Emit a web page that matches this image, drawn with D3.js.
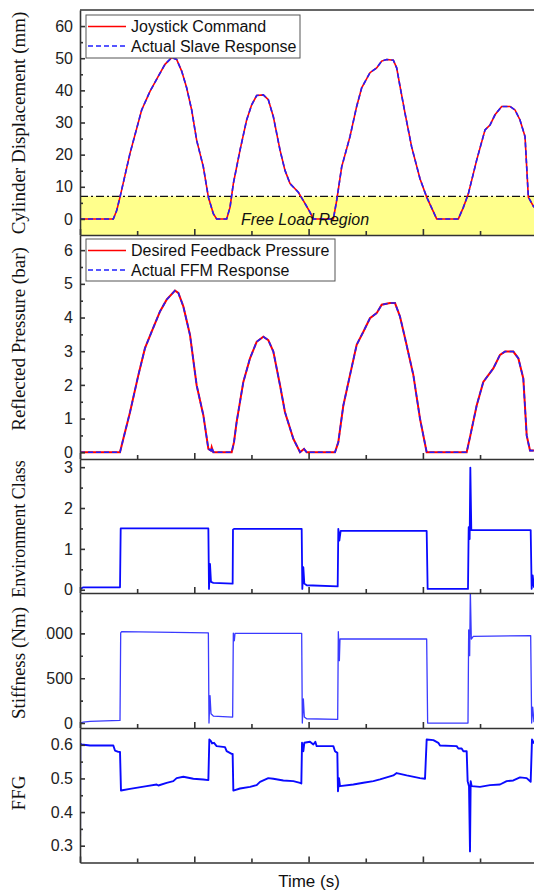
<!DOCTYPE html>
<html>
<head>
<meta charset="utf-8">
<script src="https://cdn.jsdelivr.net/npm/d3@7/dist/d3.min.js"></script>
<style>
  body { margin: 0; background: #fff; }
  svg { display: block; }
</style>
</head>
<body>
<script>
var width = 534,
    height = 892,
    left = 80;

// x ticks (no labels shown in the figure)
var timeMajor = [0, 20, 40, 60, 80],
    timeMinor = [10, 30, 50, 70];

// [time, value]
var joystickCmd = [[0,0],[5.83,0],[6.42,2.6],[7.0,6.8],[8.75,20.4],[10.79,33.9],[12.25,39.7],[13.71,44.4],[14.87,48.1],[16.04,50.2],[16.91,49.6],[17.79,46.0],[18.66,40.8],[19.54,33.9],[20.41,24.5],[21.58,16.2],[22.46,6.8],[23.33,1.6],[23.91,0],[25.66,0],[26.25,3.6],[26.83,11.0],[28.0,21.4],[29.16,30.8],[30.04,35.5],[30.91,38.4],[32.08,38.6],[32.95,37.1],[33.83,31.8],[35.0,21.4],[35.87,15.1],[36.75,11.0],[38.2,8.3],[39.08,5.7],[40.24,2.1],[40.83,0],[44.33,0],[44.91,5.7],[45.79,16.2],[47.24,25.6],[48.41,35.0],[49.29,40.8],[50.74,45.5],[51.91,47.0],[52.79,49.1],[53.66,49.6],[54.83,49.4],[55.41,47.0],[55.99,41.3],[56.87,32.9],[58.03,22.4],[59.49,12.5],[60.66,6.8],[62.41,0],[66.2,0],[67.08,3.6],[67.95,7.8],[69.41,18.3],[70.87,27.7],[71.74,29.2],[72.62,32.4],[73.78,35.0],[75.24,35.0],[76.12,33.9],[76.99,30.8],[77.87,25.6],[78.45,6.8],[79.44,3.6]];
var slaveResp = joystickCmd;

var desiredPress = [[0,0],[7.0,0],[7.58,0.40],[8.75,1.19],[10.21,2.29],[11.37,3.09],[12.54,3.58],[14.0,4.18],[15.16,4.53],[16.62,4.80],[17.21,4.73],[18.08,4.33],[19.25,3.48],[20.41,1.99],[21.58,1.10],[22.46,0.10],[22.92,0.05],[23.04,0.15],[23.33,0],[26.54,0],[26.95,0.30],[27.41,0.90],[28.58,2.09],[29.75,2.79],[30.91,3.28],[32.08,3.43],[32.95,3.33],[33.83,2.99],[35.0,1.99],[35.87,1.19],[37.33,0.40],[38.5,0],[39.2,0.10],[39.66,0],[44.62,0],[45.2,0.30],[46.08,1.39],[47.24,2.29],[48.41,3.19],[49.58,3.58],[50.74,3.98],[51.91,4.13],[52.79,4.38],[54.24,4.43],[55.12,4.43],[55.99,4.03],[56.87,3.39],[58.33,2.29],[59.49,1.00],[60.66,0],[67.66,0],[68.24,0.45],[69.41,1.39],[70.57,2.09],[71.45,2.29],[72.32,2.49],[73.49,2.89],[74.37,2.99],[75.82,2.99],[76.7,2.79],[77.57,2.19],[78.16,0.50],[78.74,0.05],[79.44,0.05]];
var ffmResp = desiredPress;

var envClass = [[0,0.01],[0.58,0.06],[7.0,0.06],[7.12,1.50],[22.46,1.50],[22.57,0.02],[22.75,0.63],[22.92,0.19],[23.33,0.17],[26.71,0.15],[26.77,1.47],[26.95,1.49],[38.79,1.49],[38.9,0.02],[39.08,0.55],[39.25,0.15],[39.66,0.11],[45.09,0.08],[45.2,1.49],[45.38,1.20],[45.61,1.44],[60.66,1.44],[60.83,0.02],[67.89,0.02],[68.01,1.53],[68.18,1.24],[68.3,2.99],[68.47,1.46],[78.86,1.46],[79.03,0.02],[79.21,0.35],[79.44,0.05]];

var stiffness = [[0,0],[0.58,11],[1.75,18],[7.0,30],[7.12,1005],[7.29,1020],[22.46,1005],[22.57,0],[22.75,307],[22.92,103],[23.33,78],[26.71,67],[26.83,1003],[27.0,918],[27.12,1000],[38.79,1000],[38.9,0],[39.08,270],[39.25,67],[39.66,48],[45.09,41],[45.2,1018],[45.38,696],[45.49,937],[60.66,937],[60.83,0],[67.89,0],[68.01,1040],[68.18,751],[68.3,1473],[68.47,937],[68.82,967],[78.86,974],[79.03,0],[79.21,178],[79.44,10]];

var ffg = [[0,0.2],[0.05,0.603],[0.29,0.601],[1.75,0.598],[5.83,0.598],[6.12,0.583],[6.71,0.579],[7.0,0.579],[7.17,0.464],[8.75,0.469],[11.67,0.477],[13.41,0.482],[13.71,0.479],[15.16,0.487],[16.33,0.492],[16.91,0.501],[18.08,0.505],[19.83,0.499],[21.58,0.497],[22.46,0.495],[22.63,0.616],[22.92,0.611],[23.1,0.604],[23.45,0.606],[23.91,0.596],[25.37,0.593],[25.66,0.581],[26.54,0.573],[26.71,0.573],[26.83,0.464],[28.0,0.470],[29.75,0.475],[30.91,0.480],[31.5,0.490],[32.95,0.501],[33.83,0.499],[35.58,0.494],[37.33,0.492],[38.5,0.487],[38.73,0.485],[38.85,0.606],[39.08,0.581],[39.25,0.606],[40.24,0.609],[40.83,0.601],[41.18,0.609],[41.41,0.596],[44.33,0.596],[44.62,0.581],[45.03,0.576],[45.14,0.462],[45.32,0.501],[45.49,0.477],[47.83,0.482],[49.58,0.487],[51.33,0.492],[52.49,0.497],[54.83,0.509],[55.41,0.516],[57.16,0.509],[59.49,0.501],[60.37,0.499],[60.66,0.616],[61.83,0.614],[62.7,0.606],[62.99,0.598],[65.91,0.596],[66.2,0.589],[66.78,0.589],[67.08,0.581],[67.66,0.581],[67.83,0.492],[68.07,0.477],[68.24,0.283],[68.36,0.492],[68.53,0.477],[69.99,0.475],[71.74,0.480],[73.49,0.482],[74.66,0.492],[75.82,0.494],[76.99,0.503],[78.16,0.501],[78.86,0.490],[79.09,0.616],[79.44,0.604]];

var freeLoadLimit = 7;

var panels = [
  {top: 10,  bottom: 235,   domain: [-5, 65],      major: [0,10,20,30,40,50,60], minor: [5,15,25,35,45,55], label: 'Cylinder Displacement (mm)', ly: 123},
  {top: 235, bottom: 459,   domain: [-0.2, 6.45],  major: [0,1,2,3,4,5,6], minor: [0.5,1.5,2.5,3.5,4.5,5.5], label: 'Reflected Pressure (bar)', ly: 339},
  {top: 459, bottom: 593,   domain: [-0.08, 3.2],  major: [0,1,2,3], minor: [0.5,1.5,2.5], label: 'Environment Class', ly: 529},
  {top: 593, bottom: 728,   domain: [-55, 1450],   major: [0,500,1000], minor: [250,750,1250], label: 'Stiffness (Nm)', ly: 663},
  {top: 728, bottom: 862.5, domain: [0.25, 0.65],  major: [0.3,0.4,0.5,0.6], minor: [0.35,0.45,0.55], label: 'FFG', ly: 793}
];

var svg = d3.select('body')
    .append('svg')
    .attr('width', width)
    .attr('height', height)

var x = d3.scaleLinear().domain([0, 80]).range([left, 537.2]);

var defs = svg.append('defs');

panels.forEach(function(p, i) {
  p.y = d3.scaleLinear().domain(p.domain).range([p.bottom, p.top]);
  defs.append('clipPath').attr('id', 'clip' + i)
    .append('rect')
    .attr('x', left).attr('y', p.top)
    .attr('width', width - left).attr('height', p.bottom - p.top);
});

function lineFor(p) {
  return d3.line().x(d => x(d[0])).y(d => p.y(d[1]));
}

// free load region
var p0 = panels[0];
var g0 = svg.append('g').attr('clip-path', 'url(#clip0)');
g0.append('rect')
  .attr('x', left)
  .attr('y', p0.y(freeLoadLimit))
  .attr('width', width - left)
  .attr('height', p0.y(p0.domain[0]) - p0.y(freeLoadLimit))
  .attr('fill', '#ffff8c');
g0.append('line')
  .attr('x1', left).attr('x2', width)
  .attr('y1', p0.y(freeLoadLimit)).attr('y2', p0.y(freeLoadLimit))
  .attr('stroke', '#111').attr('stroke-width', 1.2)
  .attr('stroke-dasharray', '8,3,2,3');
g0.append('path').datum(joystickCmd)
  .attr('d', lineFor(p0))
  .attr('fill', 'none').attr('stroke', '#ff0000').attr('stroke-width', 1.6);
g0.append('path').datum(slaveResp)
  .attr('d', lineFor(p0))
  .attr('fill', 'none').attr('stroke', '#1f1fff').attr('stroke-width', 1.6)
  .attr('stroke-dasharray', '5,3');
g0.append('text')
  .attr('x', 241).attr('y', 225)
  .attr('font-family', 'Liberation Sans, Arial, sans-serif')
  .attr('font-style', 'italic')
  .attr('font-size', 16)
  .attr('fill', '#111')
  .text('Free Load Region');

// pressure
var p1 = panels[1];
var g1 = svg.append('g').attr('clip-path', 'url(#clip1)');
g1.append('path').datum(desiredPress)
  .attr('d', lineFor(p1))
  .attr('fill', 'none').attr('stroke', '#ff0000').attr('stroke-width', 2);
g1.append('path').datum(ffmResp)
  .attr('d', lineFor(p1))
  .attr('fill', 'none').attr('stroke', '#1f1fff').attr('stroke-width', 1.6)
  .attr('stroke-dasharray', '5,3');

// env class, stiffness, ffg
var singleSeries = [
  {data: envClass, color: '#0a0aff', w: 1.8},
  {data: stiffness, color: '#3a3aff', w: 1.3},
  {data: ffg, color: '#0a0aff', w: 1.9}
];
singleSeries.forEach(function(s, k) {
  var p = panels[k + 2];
  svg.append('g').attr('clip-path', 'url(#clip' + (k + 2) + ')')
    .append('path').datum(s.data)
    .attr('d', lineFor(p))
    .attr('fill', 'none').attr('stroke', s.color).attr('stroke-width', s.w)
    .attr('stroke-linejoin', 'round');
});

// axes
var axisColor = '#333';
panels.forEach(function(p, i) {
  var ga = svg.append('g').attr('transform', 'translate(' + left + ',0)');
  ga.call(d3.axisLeft(p.y).tickValues(p.major).tickSize(-5).tickSizeOuter(0).tickPadding(7)
      .tickFormat(d => String(d)));
  ga.append('g').call(d3.axisLeft(p.y).tickValues(p.minor).tickSize(-3).tickFormat(''))
    .select('.domain').remove();
  ga.selectAll('path, line').attr('stroke', axisColor).attr('stroke-width', 1.6);
  ga.selectAll('text')
    .attr('font-family', 'Liberation Sans, Arial, sans-serif')
    .attr('font-size', 16)
    .attr('fill', '#222');
  if (i === 3) {
    // the leading "1" of 1000 is hidden in the original figure
    defs.append('clipPath').attr('id', 'lblclip')
      .append('rect').attr('x', -34.5).attr('y', 0).attr('width', 60).attr('height', height);
    ga.attr('clip-path', 'url(#lblclip)');
  }

  var gb = svg.append('g').attr('transform', 'translate(0,' + p.bottom + ')');
  gb.call(d3.axisBottom(x).tickValues(timeMajor).tickSize(-6).tickSizeOuter(0).tickFormat(''));
  gb.append('g').call(d3.axisBottom(x).tickValues(timeMinor).tickSize(-4).tickFormat(''))
    .select('.domain').remove();
  gb.selectAll('path, line').attr('stroke', axisColor).attr('stroke-width', 1.6);

  svg.append('text')
    .attr('transform', 'translate(25,' + p.ly + ') rotate(-90)')
    .attr('text-anchor', 'middle')
    .attr('font-family', 'Liberation Serif, Times New Roman, serif')
    .attr('font-size', i === 2 ? 18 : 19)
    .attr('fill', '#111')
    .text(p.label);
});

svg.append('line')
  .attr('x1', left).attr('x2', width)
  .attr('y1', panels[0].top).attr('y2', panels[0].top)
  .attr('stroke', axisColor).attr('stroke-width', 1.6);

// legends
function legend(x0, y0, w, h, items) {
  var g = svg.append('g');
  g.append('rect').attr('x', x0).attr('y', y0).attr('width', w).attr('height', h)
    .attr('fill', '#fff').attr('stroke', '#555').attr('stroke-width', 1);
  items.forEach(function(it, k) {
    var yy = y0 + 11.5 + k * 19.5;
    g.append('line').attr('x1', x0 + 2).attr('x2', x0 + 40).attr('y1', yy).attr('y2', yy)
      .attr('stroke', it.color).attr('stroke-width', 1.6)
      .attr('stroke-dasharray', it.dash || null);
    g.append('text').attr('x', x0 + 45).attr('y', yy + 5.5)
      .attr('font-family', 'Liberation Sans, Arial, sans-serif')
      .attr('font-size', 16).attr('fill', '#111')
      .text(it.name);
  });
}
legend(86, 15, 214, 43, [
  {name: 'Joystick Command', color: '#ff0000'},
  {name: 'Actual Slave Response', color: '#1f1fff', dash: '5,3'}
]);
legend(86, 239, 249, 42, [
  {name: 'Desired Feedback Pressure', color: '#ff0000'},
  {name: 'Actual FFM Response', color: '#1f1fff', dash: '5,3'}
]);

svg.append('text')
  .attr('x', 309).attr('y', 887)
  .attr('text-anchor', 'middle')
  .attr('font-family', 'Liberation Sans, Arial, sans-serif')
  .attr('font-size', 17).attr('fill', '#111')
  .text('Time (s)');
</script>
</body>
</html>
